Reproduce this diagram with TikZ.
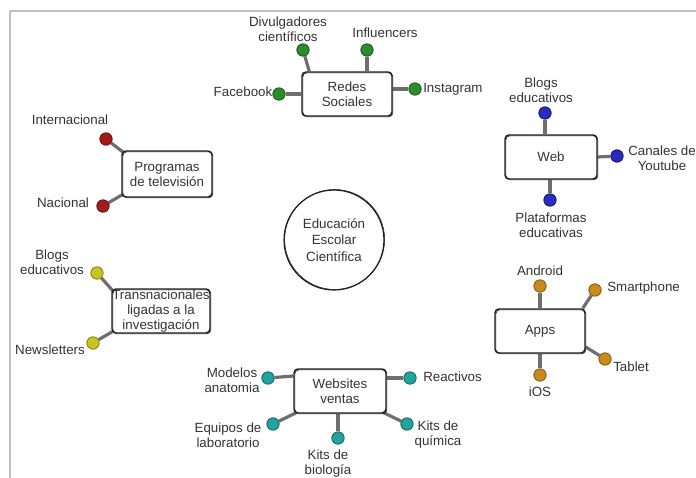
\documentclass[tikz,border=0pt]{standalone}
\usepackage{fontspec}
\setmainfont{Liberation Sans}
\usetikzlibrary{calc,backgrounds}
\definecolor{tcol}{HTML}{333333}
\definecolor{boxcol}{HTML}{1E1E1E}
\definecolor{linkcol}{HTML}{6E6E6E}
\definecolor{framecol}{HTML}{BFBFBF}
\definecolor{gfill}{HTML}{2A8C2A}\definecolor{gedge}{HTML}{1B5E1B}
\definecolor{rfill}{HTML}{A31C1C}\definecolor{redge}{HTML}{6B0F0F}
\definecolor{bfill}{HTML}{2B2BC4}\definecolor{bedge}{HTML}{15156E}
\definecolor{yfill}{HTML}{C8C41E}\definecolor{yedge}{HTML}{8A8612}
\definecolor{ofill}{HTML}{C98B1E}\definecolor{oedge}{HTML}{8A5C10}
\definecolor{cfill}{HTML}{22A39E}\definecolor{cedge}{HTML}{136864}
\begin{document}
\begin{tikzpicture}[x=0.75pt,y=-0.75pt,
  txt/.style={font=\fontsize{10}{11.25}\selectfont, text=tcol, align=center, inner sep=0pt},
  box/.style={txt, draw=boxcol, line width=1.1pt, rounded corners=3pt, fill=white,
    minimum width=67.5pt, minimum height=33pt,
    postaction={draw=boxcol, line width=0.4pt, transform canvas={shift={(0.7pt,-0.6pt)}}}},
  dot/.style={circle, minimum size=9.2pt, inner sep=0pt, line width=0.7pt},
  gdot/.style={dot, fill=gfill, draw=gedge},
  rdot/.style={dot, fill=rfill, draw=redge},
  bdot/.style={dot, fill=bfill, draw=bedge},
  ydot/.style={dot, fill=yfill, draw=yedge},
  odot/.style={dot, fill=ofill, draw=oedge},
  cdot/.style={dot, fill=cfill, draw=cedge},
  link/.style={draw=linkcol, line width=2.4pt},
  frame/.style={draw=framecol, line width=1.6pt}]
\useasboundingbox (0,0) rectangle (696,478);
\clip (0,0) rectangle (696,478);
% frame lines
\coordinate (ftl) at (10,11);
\coordinate (ftr) at (696,11);
\coordinate (fbl) at (10,478);
\draw[frame] (ftl) -- (ftr);
\draw[frame] (ftl) -- (fbl);

% central circle
\node[txt, font=\fontsize{10}{12.2}\selectfont, draw=boxcol, line width=0.9pt, circle, minimum size=75pt,
  postaction={draw=boxcol, line width=0.4pt, transform canvas={shift={(0.5pt,0.4pt)}}}]
  (c) at (334,240) {Educación\\Escolar\\Científica};

% Redes Sociales
\node[box] (rs) at (347,94) {Redes\\Sociales};
\node[gdot] (d1) at (303,50) {};
\node[gdot] (d2) at (367,50) {};
\node[gdot] (d3) at (279,94) {};
\node[gdot] (d4) at (415,89) {};
\node[txt] (l1) at (288,29) {Divulgadores\\científicos};
\node[txt] (l2) at (385,33) {Influencers};
\node[txt] (l3) at (243,92) {Facebook};
\node[txt, anchor=west] (l4) at (423,89) {Instagram};

% Programas de television
\node[box, minimum height=34.5pt] (pt) at (167,174) {Programas\\de televisión};
\node[rdot] (d5) at (106,139) {};
\node[rdot] (d6) at (103,206) {};
\node[txt] (l5) at (70,120) {Internacional};
\node[txt] (l6) at (63,203) {Nacional};

% Web
\node[box, minimum width=69pt] (web) at (551,157) {Web};
\node[bdot] (d7) at (545,113) {};
\node[bdot] (d8) at (617,156) {};
\node[bdot] (d9) at (550,200) {};
\node[txt] (l7) at (541,90) {Blogs\\educativos};
\node[txt] (l8) at (662,158) {Canales de\\Youtube};
\node[txt] (l9) at (551,225) {Plataformas\\educativas};

% Transnacionales
\node[box, minimum width=73.5pt] (tn) at (161,311) {Transnacionales\\ligadas a la\\investigación};
\node[ydot] (d10) at (97,273) {};
\node[ydot] (d11) at (93,343) {};
\node[txt] (l10) at (52,262) {Blogs\\educativos};
\node[txt] (l11) at (50,350) {Newsletters};

% Apps
\node[box] (apps) at (540,331) {Apps};
\node[odot] (d12) at (540,286) {};
\node[odot] (d13) at (595,290) {};
\node[odot] (d14) at (605,359) {};
\node[odot] (d15) at (540,375) {};
\node[txt] (l12) at (540,271) {Android};
\node[txt, anchor=west] (l13) at (607,288) {Smartphone};
\node[txt, anchor=west] (l14) at (613,367) {Tablet};
\node[txt] (l15) at (540,392) {iOS};

% Websites ventas
\node[box, minimum width=69pt] (wv) at (340,391) {Websites\\ventas};
\node[cdot] (d16) at (268,378) {};
\node[cdot] (d17) at (410,378) {};
\node[cdot] (d18) at (273,424) {};
\node[cdot] (d19) at (338,438) {};
\node[cdot] (d20) at (407,424) {};
\node[txt] (l16) at (232,380) {Modelos\\anatomia};
\node[txt, anchor=west] (l17) at (423,377) {Reactivos};
\node[txt] (l18) at (228,435) {Equipos de\\laboratorio};
\node[txt] (l19) at (328,464) {Kits de\\biología};
\node[txt] (l20) at (438,435) {Kits de\\química};

% connectors
\begin{pgfonlayer}{background}
\draw[link] ($(rs.north west)+(8,0)$) -- (d1);
\draw[link] (d2 |- rs.north) -- (d2);
\draw[link] (rs.west) -- (d3);
\draw[link] ($(rs.east)+(0,-5)$) -- (d4);
\draw[link] ($(pt.north west)+(2,2)$) -- (d5);
\draw[link] ($(pt.south west)+(1,-3)$) -- (d6);
\draw[link] (d7 |- web.north) -- (d7);
\draw[link] (web.east) -- (d8);
\draw[link] (d9 |- web.south) -- (d9);
\draw[link] ($(tn.north west)+(2,3)$) -- (d10);
\draw[link] ($(tn.south west)+(1,-2)$) -- (d11);
\draw[link] (d12 |- apps.north) -- (d12);
\draw[link] ($(apps.north east)+(-3,0)$) -- (d13);
\draw[link] ($(apps.east)+(0,16)$) -- (d14);
\draw[link] (d15 |- apps.south) -- (d15);
\draw[link] ($(wv.west)+(0,-15)$) -- (d16);
\draw[link] ($(wv.east)+(0,-13)$) -- (d17);
\draw[link] ($(wv.south west)+(3,-1)$) -- (d18);
\draw[link] (d19 |- wv.south) -- (d19);
\draw[link] ($(wv.south east)+(-3,-1)$) -- (d20);
\end{pgfonlayer}
\end{tikzpicture}
\end{document}
